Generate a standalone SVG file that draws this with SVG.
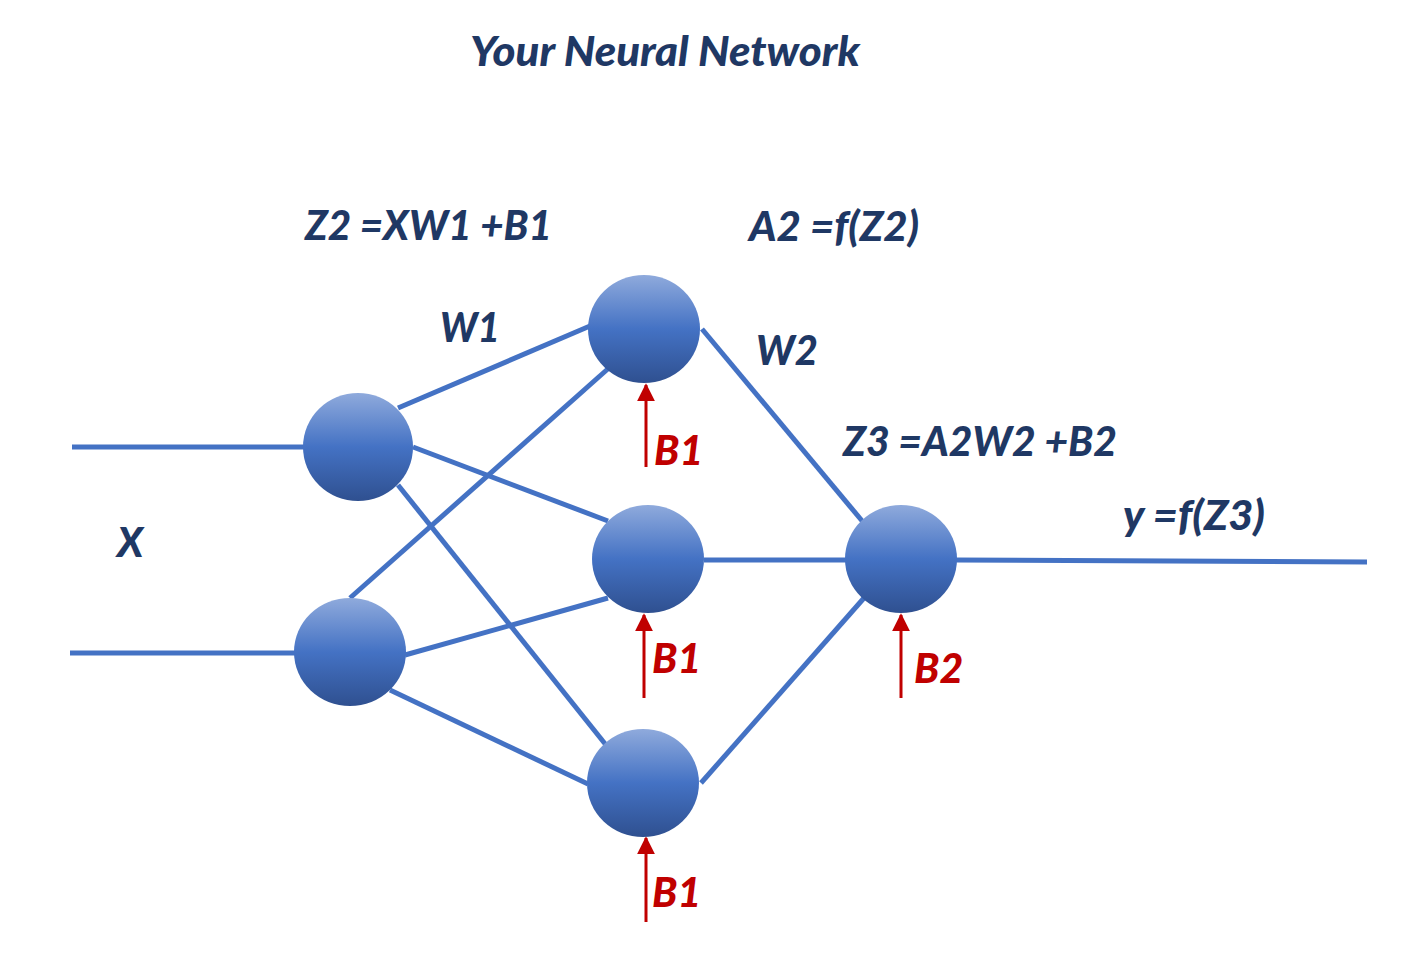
<svg xmlns="http://www.w3.org/2000/svg" width="1406" height="967" viewBox="0 0 1406 967">
<defs>
<linearGradient id="ng" x1="0" y1="0" x2="0" y2="1">
<stop offset="0" stop-color="#8FAADC"/>
<stop offset="0.5" stop-color="#4472C4"/>
<stop offset="1" stop-color="#2F5090"/>
</linearGradient>
<marker id="ah" viewBox="0 0 10 10" refX="9" refY="5" markerWidth="6" markerHeight="6" orient="auto" markerUnits="strokeWidth">
<path d="M0,0 L10,5 L0,10 z" fill="#C00000"/>
</marker>
<style>
.c{stroke:#4472C4;stroke-width:5;fill:none}
.n{fill:url(#ng)}
.t{font-family:Lato,"Open Sans",sans-serif;font-weight:900;font-style:italic;fill:#1F3864;font-size:41px}
.r{font-family:Lato,"Open Sans",sans-serif;font-weight:900;font-style:italic;fill:#C00000;font-size:41px}
.a{stroke:#C00000;stroke-width:3;fill:none;marker-end:url(#ah)}
</style>
</defs>
<rect width="1406" height="967" fill="#FFFFFF"/>
<g id="connectors">
<line class="c" x1="72" y1="447" x2="305" y2="447"/>
<line class="c" x1="70" y1="653" x2="296" y2="653"/>
<line class="c" x1="398" y1="408" x2="590" y2="326"/>
<line class="c" x1="413" y1="447" x2="608" y2="521"/>
<line class="c" x1="398" y1="485" x2="606" y2="745"/>
<line class="c" x1="350" y1="598" x2="610" y2="367"/>
<line class="c" x1="405" y1="655" x2="608" y2="598"/>
<line class="c" x1="390" y1="690" x2="588" y2="784"/>
<line class="c" x1="702" y1="329" x2="863" y2="522"/>
<line class="c" x1="704" y1="560" x2="847" y2="560"/>
<line class="c" x1="701" y1="783" x2="864" y2="598"/>
<line class="c" x1="955" y1="560" x2="1367" y2="562"/>
<line class="a" x1="646" y1="467" x2="646" y2="385"/>
<line class="a" x1="644" y1="698" x2="644" y2="615"/>
<line class="a" x1="646" y1="922" x2="646" y2="838"/>
<line class="a" x1="901" y1="698" x2="901" y2="615"/>
</g>
<g id="in1"><ellipse class="n" cx="358" cy="447" rx="55" ry="54"/></g>
<g id="in2"><ellipse class="n" cx="350" cy="652" rx="56" ry="54"/></g>
<g id="h1"><ellipse class="n" cx="644" cy="329" rx="56" ry="54"/></g>
<g id="h2"><ellipse class="n" cx="648" cy="559" rx="56" ry="54"/></g>
<g id="h3"><ellipse class="n" cx="643" cy="783" rx="56" ry="54"/></g>
<g id="out"><ellipse class="n" cx="901" cy="559" rx="56" ry="54"/></g>
<g id="labels">
<text class="t" x="470" y="66" textLength="390" lengthAdjust="spacingAndGlyphs">Your Neural Network</text>
<text class="t" x="305" y="240" textLength="247" lengthAdjust="spacingAndGlyphs">Z2 =XW1 +B1</text>
<text class="t" x="749" y="241" textLength="170" lengthAdjust="spacingAndGlyphs">A2 =f(Z2)</text>
<text class="t" x="440" y="342" textLength="60" lengthAdjust="spacingAndGlyphs">W1</text>
<text class="t" x="756" y="365" textLength="62" lengthAdjust="spacingAndGlyphs">W2</text>
<text class="t" x="843" y="456" textLength="274" lengthAdjust="spacingAndGlyphs">Z3 =A2W2 +B2</text>
<text class="t" x="1123" y="530" textLength="142" lengthAdjust="spacingAndGlyphs">y =f(Z3)</text>
<text class="t" x="117" y="557">X</text>
<text class="r" x="654" y="465">B1</text>
<text class="r" x="652" y="673">B1</text>
<text class="r" x="652" y="907">B1</text>
<text class="r" x="914" y="683">B2</text>
</g>
</svg>
